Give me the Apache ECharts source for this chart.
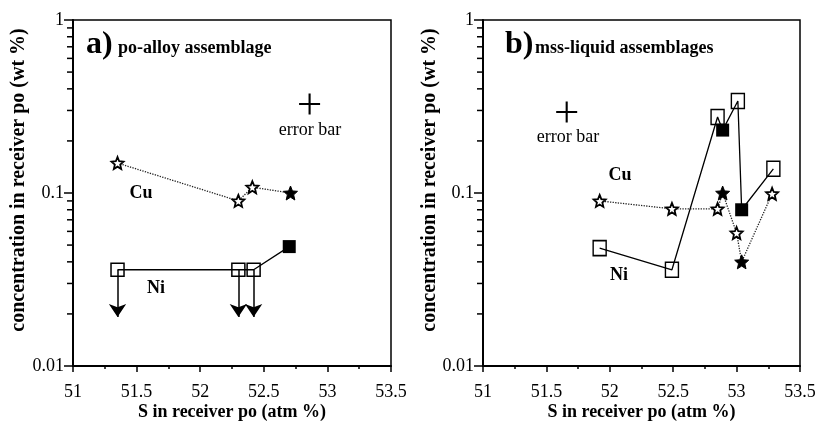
<!DOCTYPE html>
<html>
<head>
<meta charset="utf-8">
<script src="https://cdn.jsdelivr.net/npm/echarts@6/dist/echarts.min.js"></script>
<style>
  html, body { margin: 0; padding: 0; background: #fff; }
  #chart { width: 817px; height: 421px; }
</style>
</head>
<body>
<div id="chart"></div>
<script>
// panel a: po-alloy
var cuAx = [51.35, 52.3, 52.41, 52.71]
var cuAy = [0.149, 0.09, 0.108, 0.1]
var cuAfilled = [0, 0, 0, 1]
var niAx = [51.35, 52.3, 52.42, 52.7]
var niAy = [0.036, 0.036, 0.036, 0.049]
var niAfilled = [0, 0, 0, 1]
var arrowTipA = 0.0192 // upper-limit arrows on the open Ni squares
var errA = [52.86, 0.327]

// panel b: mss-liquid
var cuBx = [51.92, 52.49, 52.85, 52.89, 53.0, 53.04, 53.28]
var cuBy = [0.09, 0.081, 0.081, 0.1, 0.0587, 0.04, 0.099]
var cuBfilled = [0, 0, 0, 1, 0, 1, 0]
var niBx = [51.92, 52.49, 52.85, 52.89, 53.01, 53.04, 53.29]
var niBy = [0.048, 0.036, 0.275, 0.231, 0.34, 0.08, 0.138]
var niBfilled = [0, 0, 0, 1, 0, 1, 0]
var errB = [51.66, 0.294]

var minorY = [0.02, 0.03, 0.04, 0.05, 0.06, 0.07, 0.08, 0.09, 0.2, 0.3, 0.4, 0.5, 0.6, 0.7, 0.8, 0.9]

var FONT = 'Liberation Serif'
var STAR = 'path://M50 0 L63.2 31.8 L97.6 34.5 L71.4 57 L79.4 90.5 L50 72.5 L20.6 90.5 L28.6 57 L2.4 34.5 L36.8 31.8 Z'
var PLUS = 'path://M0 9 H20 V11 H0 Z M9 0 H11 V20 H9 Z'

function pts(xs, ys, filled, want) {
  var out = []
  xs.forEach(function (x, i) {
    if (filled[i] === want) out.push([x, ys[i]])
  })
  return out
}

function xAxisOf(idx) {
  return {
    gridIndex: idx,
    type: 'value',
    min: 51,
    max: 53.5,
    interval: 0.5,
    axisLine: { lineStyle: { color: '#000', width: 2 } },
    axisTick: { length: 6, lineStyle: { color: '#000', width: 1.5 } },
    minorTick: { show: true, splitNumber: 2, length: 3, lineStyle: { color: '#000', width: 1.5 } },
    axisLabel: { color: '#000', fontFamily: FONT, fontSize: 18, margin: 17 },
    splitLine: { show: false },
    name: 'S in receiver po (atm %)',
    nameLocation: 'middle',
    nameMoveOverlap: false,
    nameGap: 37,
    nameTextStyle: { color: '#000', fontFamily: FONT, fontSize: 18, fontWeight: 'bold' }
  }
}

function yAxisOf(idx) {
  return {
    gridIndex: idx,
    type: 'log',
    logBase: 10,
    min: 0.01,
    max: 1,
    axisLine: { lineStyle: { color: '#000', width: 2 } },
    axisTick: { length: 9, lineStyle: { color: '#000', width: 1.5 } },
    axisLabel: { color: '#000', fontFamily: FONT, fontSize: 18, margin: 9 },
    splitLine: { show: false }
  }
}

function panelSeries(idx, cux, cuy, cuf, nix, niy, nif, err, sqSize) {
  var s = []
  s.push({
    type: 'line', xAxisIndex: idx, yAxisIndex: idx,
    data: cux.map(function (x, i) { return [x, cuy[i]] }),
    showSymbol: false, silent: true,
    lineStyle: { color: '#222', width: 1.3, type: 'dotted' }, z: 2
  })
  s.push({
    type: 'line', xAxisIndex: idx, yAxisIndex: idx,
    data: nix.map(function (x, i) { return [x, niy[i]] }),
    showSymbol: false, silent: true,
    lineStyle: { color: '#000', width: 1.3 }, z: 2
  })
  s.push({
    type: 'scatter', xAxisIndex: idx, yAxisIndex: idx,
    data: pts(cux, cuy, cuf, 0), symbol: STAR, symbolSize: 12,
    itemStyle: { color: '#fff', borderColor: '#000', borderWidth: 1.8, opacity: 1 }, z: 4
  })
  s.push({
    type: 'scatter', xAxisIndex: idx, yAxisIndex: idx,
    data: pts(cux, cuy, cuf, 1), symbol: STAR, symbolSize: 14,
    itemStyle: { color: '#000', borderColor: '#000', borderWidth: 1, opacity: 1 }, z: 4
  })
  s.push({
    type: 'scatter', xAxisIndex: idx, yAxisIndex: idx,
    data: pts(nix, niy, nif, 0), symbol: 'rect', symbolSize: sqSize,
    itemStyle: { color: 'transparent', borderColor: '#000', borderWidth: 1.5, opacity: 1 }, z: 4
  })
  s.push({
    type: 'scatter', xAxisIndex: idx, yAxisIndex: idx,
    data: pts(nix, niy, nif, 1), symbol: 'rect', symbolSize: 13,
    itemStyle: { color: '#000', opacity: 1 }, z: 4
  })
  s.push({
    type: 'scatter', xAxisIndex: idx, yAxisIndex: idx,
    data: [err], symbol: PLUS, symbolSize: 21,
    itemStyle: { color: '#000', opacity: 1 }, z: 4
  })
  // minor log ticks on the y axis
  s.push({
    type: 'custom', xAxisIndex: idx, yAxisIndex: idx,
    data: minorY.map(function (v) { return [51, v] }),
    clip: false, silent: true,
    renderItem: function (params, api) {
      var p = api.coord([api.value(0), api.value(1)])
      return {
        type: 'line',
        shape: { x1: p[0] - 6, y1: p[1], x2: p[0], y2: p[1] },
        style: { stroke: '#000', lineWidth: 1.5 }
      }
    }
  })
  return s
}

var series = []
series = series.concat(panelSeries(0, cuAx, cuAy, cuAfilled, niAx, niAy, niAfilled, errA, 13))
series = series.concat(panelSeries(1, cuBx, cuBy, cuBfilled, niBx, niBy, niBfilled, errB, [13, 15]))

// down arrows (upper limits) for panel a
series.push({
  type: 'lines', coordinateSystem: 'cartesian2d', xAxisIndex: 0, yAxisIndex: 0,
  data: pts(niAx, niAy, niAfilled, 0).map(function (p) {
    return { coords: [[p[0], p[1]], [p[0], arrowTipA]] }
  }),
  symbol: ['none', 'arrow'], symbolSize: [6, 13],
  lineStyle: { color: '#000', width: 1.5, opacity: 1 },
  silent: true, z: 3
})

function txt(x, y, text, size, bold, align) {
  return {
    type: 'text', x: x, y: y, z: 100,
    style: {
      text: text, fill: '#000', fontFamily: FONT, fontSize: size,
      fontWeight: bold ? 'bold' : 'normal', align: align || 'center', verticalAlign: 'middle'
    }
  }
}

var yName = 'concentration in receiver po (wt %)'

var option = {
  animation: false,
  backgroundColor: '#fff',
  grid: [
    { left: 73, top: 20, width: 318, height: 346, show: true, borderColor: '#000', borderWidth: 1.5,
      containLabel: false, outerBoundsMode: 'none' },
    { left: 483, top: 20, width: 317, height: 346, show: true, borderColor: '#000', borderWidth: 1.5,
      containLabel: false, outerBoundsMode: 'none' }
  ],
  xAxis: [xAxisOf(0), xAxisOf(1)],
  yAxis: [yAxisOf(0), yAxisOf(1)],
  graphic: [
    txt(86, 45, 'a)', 32, true, 'left'),
    txt(118, 48, 'po-alloy assemblage', 18, true, 'left'),
    txt(310, 130, 'error bar', 18, false),
    txt(141, 193, 'Cu', 18, true),
    txt(156, 288, 'Ni', 18, true),
    txt(505, 45, 'b)', 32, true, 'left'),
    txt(535, 48, 'mss-liquid assemblages', 18, true, 'left'),
    txt(568, 137, 'error bar', 18, false),
    txt(620, 175, 'Cu', 18, true),
    txt(619, 275, 'Ni', 18, true),
    { type: 'text', x: 19, y: 180, rotation: Math.PI / 2, z: 100,
      style: { text: yName, fill: '#000', fontFamily: FONT, fontSize: 20, fontWeight: 'bold', align: 'center', verticalAlign: 'middle' } },
    { type: 'text', x: 430, y: 180, rotation: Math.PI / 2, z: 100,
      style: { text: yName, fill: '#000', fontFamily: FONT, fontSize: 20, fontWeight: 'bold', align: 'center', verticalAlign: 'middle' } }
  ],
  series: series
}

var myChart = echarts.init(document.getElementById('chart'))
myChart.setOption(option)
</script>
</body>
</html>
